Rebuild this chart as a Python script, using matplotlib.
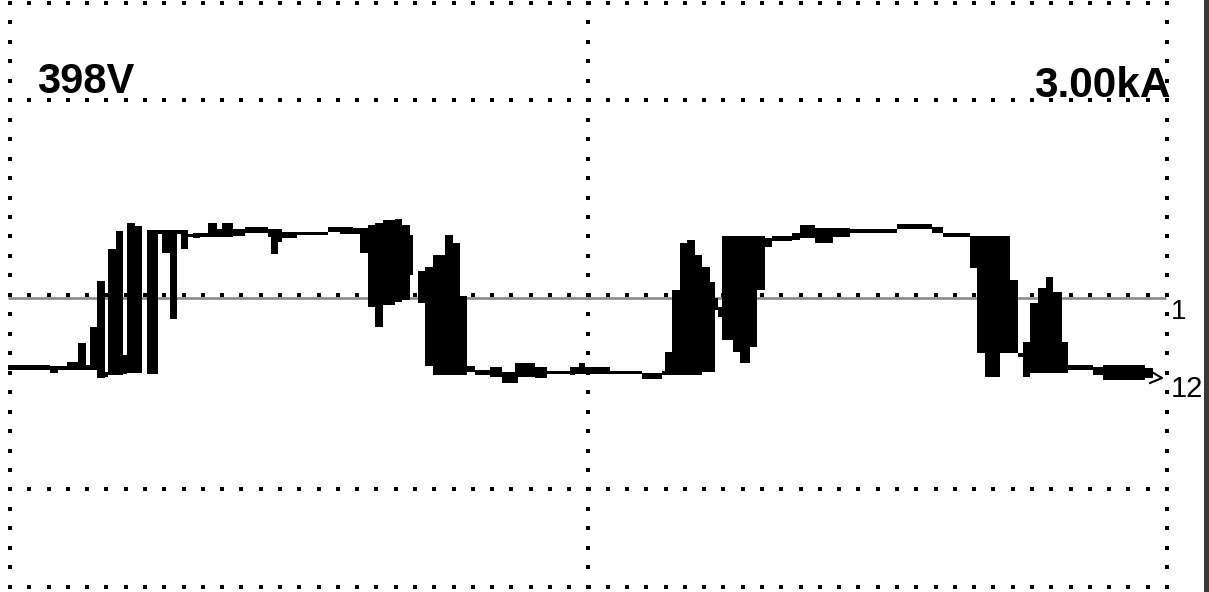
import matplotlib
matplotlib.use("Agg")
import matplotlib.pyplot as plt
import numpy as np

# ---------------- data (scope screen units: x = sample column, y = screen row) -------------
# envelope blocks of the recorded trace: start, end, upper row, lower row
seg_start = [8, 50, 58, 67, 78, 86, 90, 97, 105, 108, 116, 123, 127, 135, 147, 158, 162, 170,
             177, 181, 188, 193, 200, 208, 217, 222, 233, 245, 268, 271, 278, 282, 297, 328,
             340, 353, 360, 368, 375, 383, 395, 402, 410, 418, 425, 433, 445, 453, 460, 467,
             475, 490, 502, 515, 535, 547, 570, 575, 579, 610, 642, 662, 665, 672, 680, 687,
             695, 702, 710, 715, 718, 722, 727, 733, 740, 750, 757, 765, 772, 792, 800, 815,
             833, 850, 897, 932, 943, 970, 977, 985, 1000, 1010, 1018, 1023, 1030, 1038,
             1046, 1053, 1062, 1068, 1093, 1103, 1145]
seg_end = [50, 58, 67, 78, 86, 90, 97, 105, 108, 116, 123, 127, 135, 142, 158, 163, 170, 177,
           181, 188, 193, 200, 208, 217, 222, 233, 245, 268, 271, 278, 282, 297, 328, 340,
           353, 360, 368, 375, 383, 395, 402, 410, 413, 425, 433, 445, 453, 460, 467, 475,
           490, 502, 518, 535, 547, 570, 575, 610, 585, 642, 662, 665, 672, 680, 687, 695,
           702, 710, 715, 718, 722, 727, 733, 740, 750, 757, 765, 772, 792, 800, 815, 833,
           850, 897, 932, 943, 970, 977, 985, 1000, 1010, 1018, 1023, 1030, 1038, 1046,
           1053, 1062, 1068, 1093, 1103, 1145, 1153]
seg_high = [365, 366, 366, 362, 343, 365, 327, 281, 372, 249, 231, 355, 223, 226, 230, 230,
            230, 230, 230, 230, 234, 233, 233, 223, 229, 223, 229, 227, 229, 229, 229, 232,
            232, 227, 227, 228, 228, 225, 223, 220, 219, 225, 235, 271, 267, 255, 235, 243,
            296, 366, 370, 367, 372, 363, 367, 371, 367, 367, 363, 371, 373, 371, 352, 290,
            243, 240, 255, 267, 282, 298, 307, 236, 236, 236, 236, 236, 236, 238, 236, 233,
            225, 228, 228, 229, 224, 227, 233, 236, 236, 236, 236, 280, 353, 342, 303, 288,
            277, 292, 342, 365, 367, 365, 368]
seg_low = [370, 373, 370, 370, 370, 370, 370, 378, 377, 375, 375, 374, 373, 373, 374, 234,
           253, 319, 234, 249, 237, 238, 237, 237, 237, 237, 236, 233, 237, 254, 242, 238,
           235, 232, 234, 234, 253, 307, 327, 305, 302, 300, 275, 303, 366, 375, 375, 375,
           375, 372, 375, 377, 383, 377, 378, 374, 375, 374, 372, 374, 379, 375, 375, 375,
           375, 375, 375, 372, 372, 310, 317, 340, 340, 352, 363, 347, 290, 247, 241, 240,
           238, 243, 237, 233, 229, 233, 237, 268, 353, 377, 353, 353, 357, 377, 373, 373,
           373, 373, 373, 370, 375, 380, 378]

# reference (zero) line of channel 1 and end pointer of the trace
ref_row = 297.5
pointer_x = [1150, 1162, 1150]
pointer_y = [371, 378, 383]

# graticule
grid_cols = [10, 588, 1167]
grid_rows = [3, 100.3, 294.8, 489.4, 586.7]
dot_step_x = (1167 - 10) / 60
dot_step_y = (586.7 - 3) / 30

label_volt = "398V"
label_amp = "3.00kA"
label_ch1 = "1"
label_ch2 = "12"

# ---------------- drawing -------------
W, H = 1209, 592
fig = plt.figure(figsize=(W / 100, H / 100), dpi=100)
ax = fig.add_axes([0, 0, 1, 1])
ax.set_xlim(0, W)
ax.set_ylim(H, 0)
ax.axis("off")
fig.patch.set_facecolor("white")

# dotted graticule
for gx in grid_cols:
    ys = np.arange(grid_rows[0], grid_rows[-1] + 0.1, dot_step_y)
    ax.scatter(np.full_like(ys, gx), ys, marker="s", s=6.5, color="black", linewidths=0, zorder=2)
for gy in grid_rows:
    xs = np.arange(grid_cols[0], grid_cols[-1] + 0.1, dot_step_x)
    ax.scatter(xs, np.full_like(xs, gy), marker="s", s=6.5, color="black", linewidths=0, zorder=2)

# reference line
ax.plot([8, 1166], [ref_row, ref_row], color="#8a8a8a", lw=1.9, solid_capstyle="butt", zorder=3)

# trace envelope
s0 = np.array(seg_start, float)
s1 = np.array(seg_end, float)
hi = np.array(seg_high, float)
lo = np.array(seg_low, float)
ax.bar(s0, hi - lo, width=s1 - s0, bottom=lo, align="edge", color="black",
       linewidth=0, zorder=4)
ax.plot(pointer_x, pointer_y, color="black", lw=1.5, zorder=4)

# right border bar
ax.axvspan(1203.5, 1209, color="#3a3a3a", zorder=5, lw=0)

# labels
ax.text(37, 93, label_volt, fontsize=30, fontweight="bold",
        family=["Liberation Sans", "DejaVu Sans"], ha="left", va="baseline", zorder=6)
ax.text(1171, 97, label_amp, fontsize=30.5, fontweight="bold",
        family=["Liberation Sans", "DejaVu Sans"], ha="right", va="baseline", zorder=6)
ax.text(1171, 319, label_ch1, fontsize=20, family=["Liberation Sans", "DejaVu Sans"],
        ha="left", va="baseline", zorder=6)
ax.text(1171, 397, label_ch2, fontsize=21, family=["Liberation Sans", "DejaVu Sans"],
        ha="left", va="baseline", zorder=6)

fig.savefig("out.png", dpi=100, facecolor="white")
